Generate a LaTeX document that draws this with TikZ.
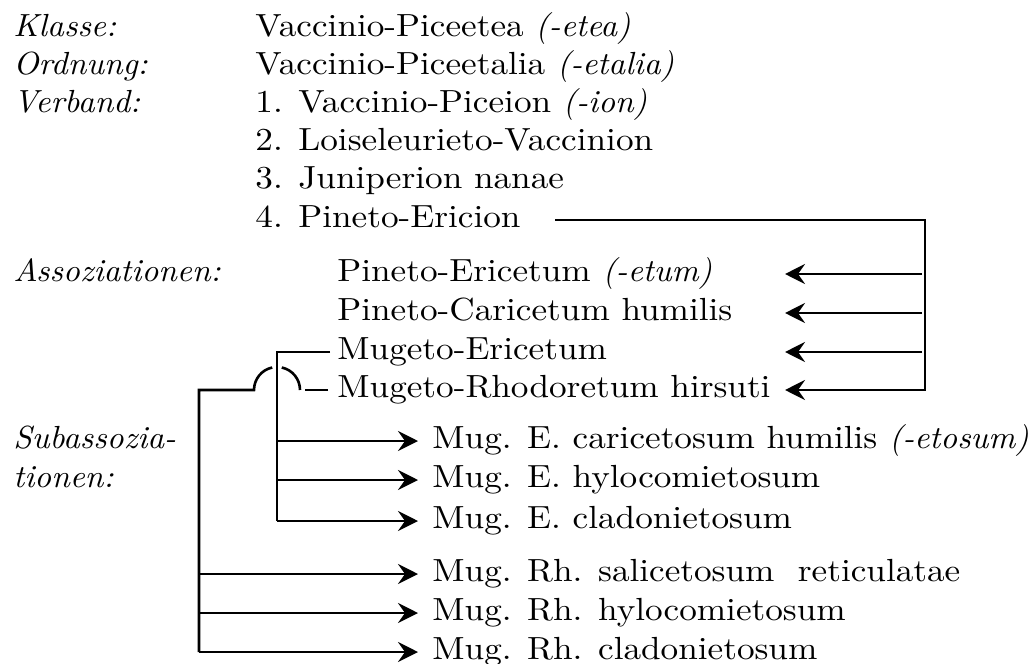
\documentclass[tikz,border=0pt]{standalone}
\usepackage{fontspec}
\setmainfont{lmroman10-regular}[Extension=.otf, ItalicFont=lmroman10-italic, FakeStretch=1.10]
\newfontfamily\itf{lmroman10-italic}[Extension=.otf, FakeStretch=1.03]
\newcommand\ITX[1]{{\itf #1}}
\usetikzlibrary{arrows.meta}
\begin{document}
\begin{tikzpicture}[x=0.5pt,y=-0.5pt,
  lab/.style={anchor=base west, inner sep=0pt, font=\fontsize{16}{19}\selectfont\itf},
  txt/.style={anchor=base west, inner sep=0pt, font=\fontsize{16}{19}\selectfont},
  conn/.style={line width=1.3pt},
  arr/.style={conn, -{Stealth[length=10pt,width=10pt,inset=3.5pt]}}]
\useasboundingbox (0,0) rectangle (1036,663);
% left labels
\node[lab] (lk) at (13,37) {Klasse:};
\node[lab] (lo) at (13,75) {Ordnung:};
\node[lab] (lv) at (13,113) {Verband:};
\node[lab] (la) at (13,281) {Assoziationen:};
\node[lab] (ls1) at (13,448) {Subassozia-};
\node[lab] (ls2) at (13,487) {tionen:};
% hierarchy
\node[txt] (k) at (255,37) {Vaccinio-Piceetea \ITX{(-etea)}};
\node[txt] (o) at (255,75) {Vaccinio-Piceetalia \ITX{(-etalia)}};
\node[txt] (v1) at (255,113) {1. Vaccinio-Piceion \ITX{(-ion)}};
\node[txt] (v2) at (255,151) {2. Loiseleurieto-Vaccinion};
\node[txt] (v3) at (255,189) {3. Juniperion nanae};
\node[txt] (v4) at (255,227) {4. Pineto-Ericion};
% associations
\node[txt] (a1) at (337,281) {Pineto-Ericetum \ITX{(-etum)}};
\node[txt] (a2) at (337,320) {Pineto-Caricetum humilis};
\node[txt] (a3) at (337,359) {Mugeto-Ericetum};
\node[txt] (a4) at (337,397) {Mugeto-Rhodoretum hirsuti};
% subassociations
\node[txt] (s1) at (432,448) {Mug. E. caricetosum humilis \ITX{(-etosum)}};
\node[txt] (s2) at (432,487) {Mug. E. hylocomietosum};
\node[txt] (s3) at (432,528) {Mug. E. cladonietosum};
\node[txt] (s4) at (432,581) {Mug. Rh. salicetosum\ \ reticulatae};
\node[txt] (s5) at (432,620) {Mug. Rh. hylocomietosum};
\node[txt] (s6) at (432,659) {Mug. Rh. cladonietosum};
% right bracket from Pineto-Ericion to associations
\coordinate (v4r) at (555,220);
\coordinate (rc) at (925,220);
\coordinate (rb) at (925,390);
\coordinate (ta1) at (785,274);
\coordinate (ta2) at (785,313);
\coordinate (ta3) at (785,352);
\coordinate (ta4) at (785,390);
\draw[arr] (v4r) -- (rc) -- (rb) -- (ta4);
\draw[arr] (922,274) -- (ta1);
\draw[arr] (922,313) -- (ta2);
\draw[arr] (922,352) -- (ta3);
% Mugeto-Ericetum bracket
\coordinate (me) at (330,352);
\coordinate (mc) at (277,352);
\coordinate (mb) at (277,521);
\coordinate (ts1) at (418,441);
\coordinate (ts2) at (418,480);
\coordinate (ts3) at (418,521);
\draw[conn] (me) -- (mc) -- (mb);
\draw[arr] (277,441) -- (ts1);
\draw[arr] (277,480) -- (ts2);
\draw[arr] (mb) -- (ts3);
% Mugeto-Rhodoretum bracket with hop over
\coordinate (mr) at (328,390);
\coordinate (hr) at (305,390);
\coordinate (hl) at (254,390);
\coordinate (lc) at (199,390);
\coordinate (lb) at (199,652);
\coordinate (ts4) at (418,574);
\coordinate (ts5) at (418,613);
\coordinate (ts6) at (418,652);
\draw[conn] (mr) -- (hr);
\draw[conn] (300,390) arc[start angle=0, end angle=78, radius=11.5pt];
\draw[conn] (lb) -- (lc) -- (hl) arc[start angle=180, end angle=102, radius=11.5pt];
\draw[arr] (199,574) -- (ts4);
\draw[arr] (199,613) -- (ts5);
\draw[arr] (lb) -- (ts6);
\end{tikzpicture}
\end{document}
